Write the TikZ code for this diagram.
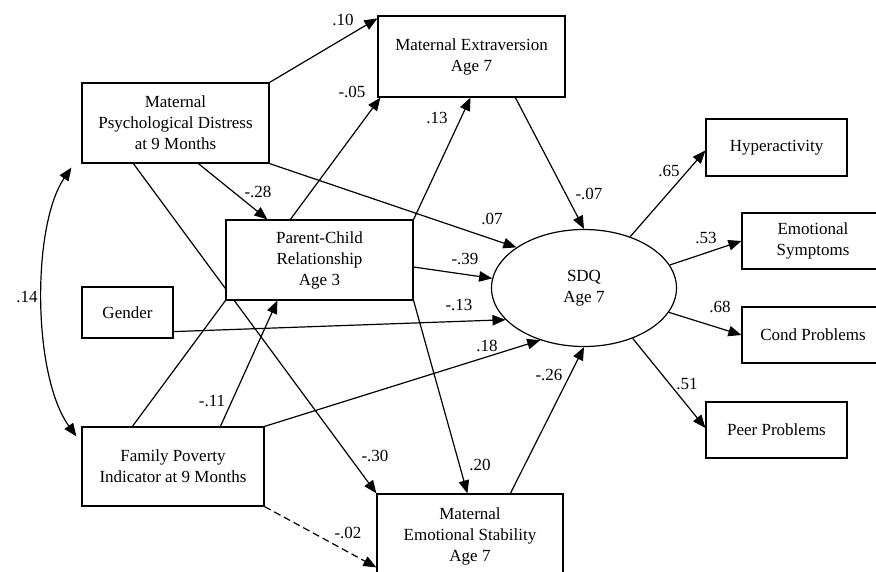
\documentclass[tikz,border=0pt]{standalone}
\usepackage{fontspec}
\setmainfont{Liberation Serif}
\usetikzlibrary{shapes.geometric,arrows.meta}
\pgfdeclarelayer{background}
\pgfsetlayers{background,main}
\begin{document}
\begin{tikzpicture}[x=1pt,y=-1pt,
  box/.style={draw,line width=1.2pt,fill=white,inner sep=0pt,align=center,font=\fontsize{17}{21}\selectfont},
  lat/.style={draw,ellipse,line width=1.2pt,fill=white,inner sep=0pt,align=center,font=\fontsize{17}{21}\selectfont},
  conn/.style={line width=1.2pt,-{Triangle[length=13pt,width=10.5pt]}},
  plain/.style={line width=1.2pt},
  dbl/.style={line width=1.2pt,{Triangle[length=13pt,width=10.5pt]}-{Triangle[length=13pt,width=10.5pt]}},
  coef/.style={font=\fontsize{17}{21}\selectfont,inner sep=0pt}]
\useasboundingbox (0,0) rectangle (876,571);
% nodes
\node[box,minimum width=187pt,minimum height=80pt] (mpd) at (175.5,123) {Maternal\\Psychological Distress\\at 9 Months};
\node[box,minimum width=187pt,minimum height=81pt] (me) at (471.5,56.5) {Maternal Extraversion\\Age 7};
\node[box,minimum width=187pt,minimum height=80pt] (pcr) at (319.5,260) {Parent-Child\\Relationship\\Age 3};
\node[box,minimum width=91pt,minimum height=51pt] (gender) at (127.5,312.5) {Gender};
\node[box,minimum width=182pt,minimum height=79pt] (fpi) at (173,466.5) {Family Poverty\\Indicator at 9 Months};
\node[box,minimum width=186pt,minimum height=84pt] (mes) at (470,536) {Maternal\\Emotional Stability\\Age 7};
\node[lat,minimum width=185pt,minimum height=117pt] (sdq) at (584,288) {SDQ\\Age 7};
\node[box,minimum width=141pt,minimum height=57pt] (hyp) at (776.5,147.5) {Hyperactivity};
\node[box,minimum width=142pt,minimum height=56pt] (es) at (813,241) {Emotional\\Symptoms};
\node[box,minimum width=142pt,minimum height=56pt] (cond) at (813,335) {Cond Problems};
\node[box,minimum width=141pt,minimum height=56pt] (peer) at (776.5,430) {Peer Problems};
% connectors
\begin{pgfonlayer}{background}
\draw[conn] (mpd.north east) -- ([yshift=-3pt]me.north west);
\draw[conn] ([xshift=65pt]pcr.north west) -- ([xshift=3pt]me.south west);
\draw[conn] (pcr.north east) -- ([xshift=-1pt]me.south);
\draw[plain] ([xshift=51pt]fpi.north west) -- (pcr.south west);
\draw[conn] ([xshift=117pt]mpd.south west) -- ([xshift=42pt]pcr.north west);
\draw[conn] (mpd.south east) -- (sdq.149);
\draw[conn] ([xshift=52pt]mpd.south west) -- (mes.north west);
\draw[conn] (pcr.south east) -- ([xshift=91pt]mes.north west);
\draw[conn] ([yshift=-7pt]pcr.east) -- (sdq.174);
\draw[conn] ([yshift=7pt]gender.south east) -- (sdq.202);
\draw[conn] (fpi.north east) -- (sdq.230);
\draw[conn] ([xshift=139pt]fpi.north west) -- ([xshift=52pt]pcr.south west);
\draw[conn,dash pattern=on 7pt off 4pt] (fpi.south east) -- ([yshift=-74pt]mes.north west);
\draw[conn] ([xshift=138pt]me.south west) -- (sdq.north);
\draw[conn] ([xshift=134pt]mes.north west) -- (sdq.south);
\draw[conn] (sdq.48) -- ([yshift=-3pt]hyp.west);
\draw[conn] (sdq.15) -- (es.west);
\draw[conn] (sdq.-16) -- (cond.west);
\draw[conn] (sdq.-46) -- ([yshift=2pt]peer.west);
\draw[dbl] ([xshift=-10pt,yshift=-4pt]mpd.south west) .. controls (32,225) and (32,375) .. ([xshift=-5pt,yshift=-10pt]fpi.north west);
\end{pgfonlayer}
% coefficients
\node[coef] (c1) at (343,20) {.10};
\node[coef] (c2) at (352,92) {-.05};
\node[coef] (c3) at (437,118) {.13};
\node[coef] (c4) at (258,192) {-.28};
\node[coef] (c5) at (492,219) {.07};
\node[coef] (c6) at (465,259) {-.39};
\node[coef] (c7) at (589,194) {-.07};
\node[coef] (c8) at (669,171) {.65};
\node[coef] (c9) at (706,238) {.53};
\node[coef] (c10) at (27,297) {.14};
\node[coef] (c11) at (459,305) {-.13};
\node[coef] (c12) at (487,346) {.18};
\node[coef] (c13) at (549,375) {-.26};
\node[coef] (c14) at (212,401) {-.11};
\node[coef] (c15) at (375,456) {-.30};
\node[coef] (c16) at (348,533) {-.02};
\node[coef] (c17) at (480,465) {.20};
\node[coef] (c18) at (720,307) {.68};
\node[coef] (c19) at (687,384) {.51};
\end{tikzpicture}
\end{document}
